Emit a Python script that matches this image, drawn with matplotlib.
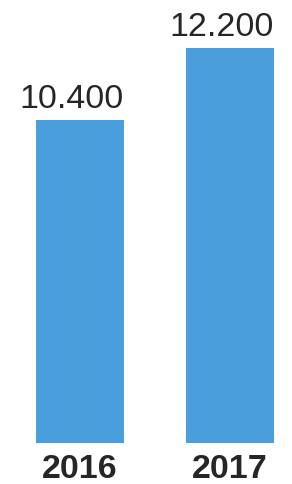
import matplotlib
matplotlib.use("Agg")
import matplotlib.pyplot as plt

categories = ["2016", "2017"]
values = [10.4, 12.2]
value_labels = ["10.400", "12.200"]

plt.rcParams['font.family'] = ['Liberation Sans', 'DejaVu Sans']

W, H = 292, 485
fig = plt.figure(figsize=(W / 100, H / 100), dpi=100)
ax = fig.add_axes([0, 1 - 444 / H, 1, (444 - 49) / H])

bar_color = "#489FDC"
text_color = "#262626"
x = list(range(len(categories)))
bars = ax.bar(x, values, width=88 / 150, color=bar_color)
for xi, v, lab in zip(x, values, value_labels):
    ax.annotate(lab, (xi, v), xytext=(-8, 6), textcoords='offset pixels',
                ha='center', va='bottom', fontsize=24.5, color=text_color)

ax.set_xlim(-80 / 150, (W - 80) / 150)
ax.set_ylim(2.325, 12.2)
ax.set_xticks(x)
ax.set_xticklabels(categories, fontsize=24.5, fontweight='bold', color=text_color)
ax.tick_params(axis='x', length=0, pad=7)
ax.set_yticks([])
for s in ax.spines.values():
    s.set_visible(False)
ax.patch.set_alpha(0)

fig.savefig("out.png", dpi=100)
